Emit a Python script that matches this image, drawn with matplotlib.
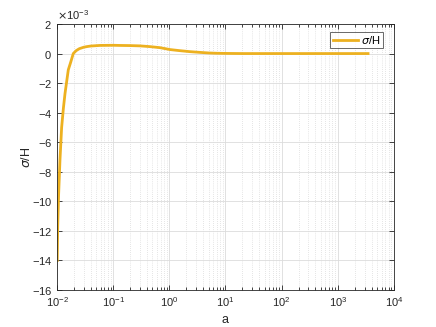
import matplotlib
matplotlib.use("Agg")
import matplotlib.pyplot as plt
import numpy as np
from matplotlib.ticker import LogLocator, NullFormatter

plt.rcParams["font.family"] = ["Liberation Sans", "DejaVu Sans"]
plt.rcParams["mathtext.fontset"] = "dejavusans"
plt.rcParams["axes.unicode_minus"] = False

a = [0.0101, 0.0103, 0.0107, 0.0113, 0.0121, 0.013, 0.0139, 0.0159, 0.0175,
     0.0195, 0.022, 0.025, 0.03, 0.034, 0.04, 0.058, 0.1, 0.13, 0.2, 0.3,
     0.45, 0.68, 1.03, 1.5, 2.3, 3.5, 5, 7, 10, 20, 100, 1000, 3450]
sigma_h = [-14.0, -11.7, -9.5, -7.2, -5.0, -3.7, -2.7, -1.1, -0.6,
           0.0, 0.2, 0.33, 0.43, 0.47, 0.51, 0.55, 0.56, 0.55, 0.54, 0.52,
           0.47, 0.40, 0.27, 0.20, 0.13, 0.08, 0.04, 0.02, 0.01, 0.0, 0.0, 0.0, 0.0]

fig = plt.figure(figsize=(4.36, 3.27), dpi=100)
ax = fig.add_axes([0.1307, 0.1131, 0.773, 0.8135])

ys = np.array(sigma_h) * 1e-3
ax.plot(a, ys, color="#EDB120", lw=2.0, label=r"$\sigma$/H")

ax.set_xscale("log")
ax.set_xlim(1e-2, 1e4)
ax.set_ylim(-16e-3, 2e-3)
ax.set_yticks(np.arange(-16, 3, 2) * 1e-3)
ax.ticklabel_format(axis="y", style="sci", scilimits=(-3, -3), useMathText=True)
ax.xaxis.set_minor_locator(LogLocator(base=10, subs=np.arange(2, 10)))
ax.xaxis.set_minor_formatter(NullFormatter())

ax.grid(True, which="major", color="#dcdcdc", lw=0.6)
ax.grid(True, which="minor", axis="x", color="#cccccc", lw=0.5, ls=(0, (1, 2)))
ax.set_axisbelow(True)

gray = "#262626"
for s in ax.spines.values():
    s.set_color(gray)
    s.set_linewidth(0.6)
ax.tick_params(which="both", direction="in", top=True, right=True,
               colors=gray, labelsize=8, width=0.6)
ax.tick_params(which="major", length=3.5)
ax.tick_params(which="minor", length=2)
ax.yaxis.get_offset_text().set_fontsize(8)
ax.yaxis.get_offset_text().set_color(gray)

ax.set_xlabel("a", fontsize=9, color=gray)
ax.set_ylabel(r"$\sigma$/H", fontsize=9, color=gray, labelpad=-1)

leg = ax.legend(loc="upper right", bbox_to_anchor=(0.967, 0.970), fontsize=8,
                frameon=True, fancybox=False, handlelength=2.3,
                handletextpad=0.3, borderpad=0.2, borderaxespad=0)
leg.get_frame().set_edgecolor(gray)
leg.get_frame().set_linewidth(0.6)

fig.savefig("out.png", dpi=100)
